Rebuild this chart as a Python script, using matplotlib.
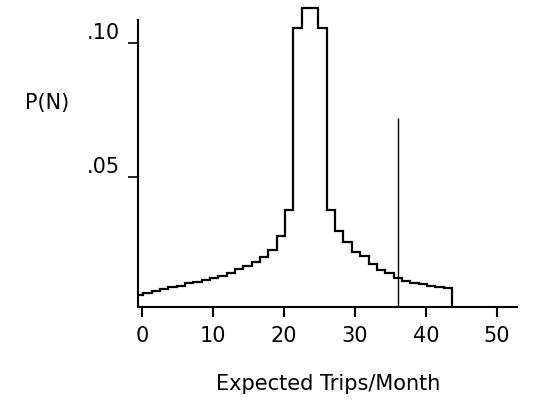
import numpy as np
import matplotlib
matplotlib.use("Agg")
import matplotlib.pyplot as plt

# Histogram of P(N), one value per bin
p_values = [0.0060, 0.0067, 0.0075, 0.0082, 0.0090, 0.0095, 0.0103, 0.0110,
            0.0116, 0.0123, 0.0131, 0.0142, 0.0155, 0.0168, 0.0183, 0.0201,
            0.0228, 0.0280, 0.0377, 0.1056, 0.1130, 0.1130, 0.1056, 0.0377,
            0.0300, 0.0259, 0.0221, 0.0206, 0.0175, 0.0153, 0.0141, 0.0124,
            0.0112, 0.0104, 0.0099, 0.0095, 0.0091, 0.0087]
bin_start = -1.0
bin_width = 1.175

# Single vertical marker line
marker_x = 36
marker_top = 0.072

x_ticks = [0, 10, 20, 30, 40, 50]
x_tick_labels = ["0", "10", "20", "30", "40", "50"]
y_ticks = [0.05, 0.10]
y_tick_labels = [".05", ".10"]


def draw_chart():
    fig = plt.figure(figsize=(5.33, 4.11), dpi=100)
    ax = fig.add_axes([0.2589, 0.253, 0.711, 0.747])

    y_bottom = 0.0015
    edges = bin_start + bin_width * np.arange(len(p_values) + 1)

    # Step outline of the distribution
    ax.stairs(p_values, edges, baseline=y_bottom, color="black", linewidth=1.6)

    # Vertical line at the marker value
    ax.vlines(marker_x, y_bottom, marker_top, color="black", linewidth=1.0)

    ax.set_xlim(-0.56, 52.8)
    ax.set_ylim(y_bottom, 0.116)

    # Axes look: only left and bottom lines
    for side in ["top", "right"]:
        ax.spines[side].set_visible(False)
    ax.spines["left"].set_linewidth(1.5)
    ax.spines["bottom"].set_linewidth(1.5)
    ax.spines["left"].set_bounds(y_bottom, 0.1086)

    ax.set_xticks(x_ticks)
    ax.set_xticklabels(x_tick_labels, fontsize=15)
    ax.tick_params(axis="x", direction="out", length=7, width=1.5, pad=7)

    ax.set_yticks(y_ticks)
    ax.set_yticklabels(y_tick_labels, fontsize=15)
    ax.tick_params(axis="y", direction="out", length=7, width=1.2, pad=6)
    for lbl in ax.get_yticklabels():
        lbl.set_va("bottom")

    # Axis titles placed as in the original
    fig.text(47 / 533, 1 - 103 / 411, "P(N)", fontsize=15, ha="center", va="center")
    fig.text(328 / 533, 1 - 390 / 411, "Expected Trips/Month", fontsize=15,
             ha="center", va="baseline")

    fig.savefig("out.png", dpi=100)


def main():
    draw_chart()


if __name__ == "__main__":
    main()
